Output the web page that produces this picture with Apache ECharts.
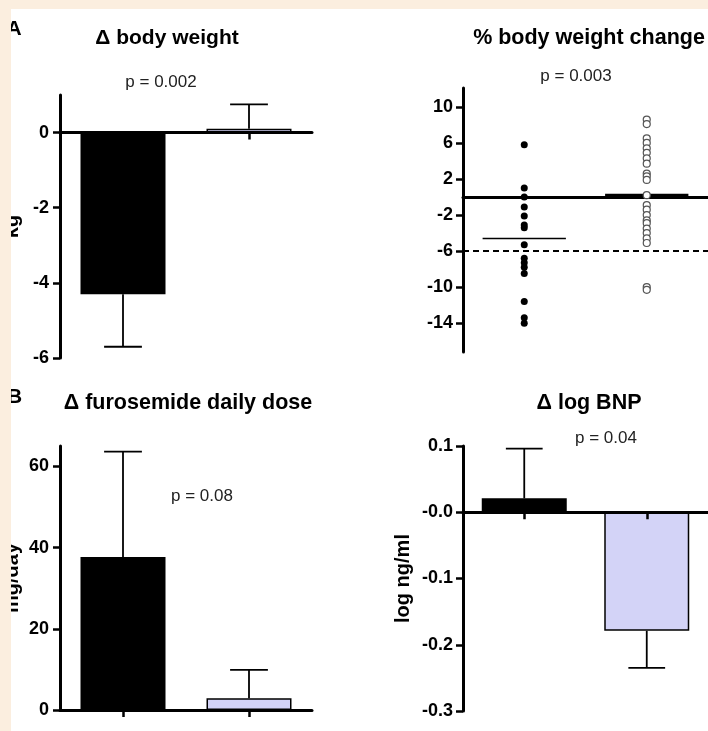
<!DOCTYPE html>
<html>
<head>
<meta charset="utf-8">
<script src="https://cdn.jsdelivr.net/npm/echarts@6/dist/echarts.min.js"></script>
<style>
html,body{margin:0;padding:0;background:#ffffff;}
#chart{width:708px;height:731px;}
</style>
</head>
<body>
<div id="chart"></div>
<script>
// ---------- data ----------
const categories = ['1', '2'];

// Panel A left: Δ body weight (kg)
const bwMean = [-4.3, 0.1];
const bwErrEnd = [-5.7, 0.75];
const bwTicks = [-6, -4, -2, 0];

// Panel A right: % body weight change
const pctGroup1 = [5.8, 1.0, 0, -1.1, -2.1, -3.1, -3.4, -5.3, -6.8, -7.3, -7.8, -8.5, -11.6, -13.4, -14.0];
const pctGroup2 = [8.6, 8.1, 6.5, 6.0, 5.4, 4.9, 4.3, 3.7, 2.6, 2.3, 1.9, 0.2, -0.9, -1.4, -2.0, -2.6, -2.9, -3.5, -4.0, -4.6, -5.1, -10.0, -10.3];
const pctMeans = [-4.6, 0.2];
const pctThreshold = -6;
const pctTicks = [-14, -10, -6, -2, 2, 6, 10];

// Panel B left: Δ furosemide daily dose (mg/day)
const furMean = [37.7, 2.9];
const furErrEnd = [63.6, 9.9];
const furTicks = [0, 20, 40, 60];

// Panel B right: Δ log BNP (log ng/ml)
const bnpMean = [0.021, -0.179];
const bnpErrEnd = [0.096, -0.235];
const bnpTicks = [-0.3, -0.2, -0.1, 0, 0.1];
const bnpTickLabels = ['-0.3', '-0.2', '-0.1', '-0.0', '0.1'];

// ---------- styling ----------
const FONT = '"Liberation Sans", Arial, Helvetica, sans-serif';
const BLACK = '#000000';
const LAVENDER = '#d3d3f7';
const CREAM = '#fbeedf';
const groupColors = [BLACK, LAVENDER];

function barData(values) {
  return values.map((v, i) => ({
    value: v,
    itemStyle: { color: groupColors[i], borderColor: BLACK, borderWidth: 1.5 }
  }));
}
function errData(means, ends) {
  return means.map((m, i) => [i, m, ends[i]]);
}
function errRender(params, api) {
  const x = api.value(0), m = api.value(1), e = api.value(2);
  const p0 = api.coord([x, m]);
  const p1 = api.coord([x, e]);
  const half = api.size([1, 0])[0] * 0.15;
  return {
    type: 'group',
    children: [
      { type: 'line', shape: { x1: p0[0], y1: p0[1], x2: p1[0], y2: p1[1] }, style: { stroke: BLACK, lineWidth: 1.8 } },
      { type: 'line', shape: { x1: p1[0] - half, y1: p1[1], x2: p1[0] + half, y2: p1[1] }, style: { stroke: BLACK, lineWidth: 1.8 } }
    ]
  };
}
function meanRender(params, api) {
  const x = api.value(0), m = api.value(1);
  const c = api.coord([x, m]);
  const half = api.size([1, 0])[0] * 0.34;
  return {
    type: 'line',
    shape: { x1: c[0] - half, y1: c[1], x2: c[0] + half, y2: c[1] },
    style: { stroke: BLACK, lineWidth: params.dataIndex === 0 ? 1.5 : 3 }
  };
}

function xAxisCfg(gridIndex, showTicks) {
  return {
    type: 'category', gridIndex: gridIndex, data: categories,
    z: 5,
    axisLine: { show: true, onZero: true, lineStyle: { color: BLACK, width: 3 } },
    axisTick: { show: showTicks, alignWithLabel: true, length: 7, lineStyle: { color: BLACK, width: 2.5 } },
    axisLabel: { show: false },
    splitLine: { show: false }
  };
}
function yAxisCfg(gridIndex, min, max, ticks, fmt, name, nameGap, margin) {
  return {
    type: 'value', gridIndex: gridIndex, min: min, max: max,
    name: name, nameLocation: 'middle', nameGap: nameGap, nameRotate: 90,
    nameTextStyle: { fontFamily: FONT, fontWeight: 'bold', fontSize: 20, color: BLACK },
    axisLine: { show: true, lineStyle: { color: BLACK, width: 3 } },
    axisTick: { show: true, length: 7, customValues: ticks, lineStyle: { color: BLACK, width: 2.5 } },
    axisLabel: {
      show: true, customValues: ticks, margin: margin, formatter: fmt,
      fontFamily: FONT, fontWeight: 'bold', fontSize: 18, color: BLACK
    },
    splitLine: { show: false }
  };
}

function txt(x, y, text, size, bold, color) {
  return {
    type: 'text', x: x, y: y, z: 50,
    style: {
      text: text, fontFamily: FONT, fontSize: size, fontWeight: bold ? 'bold' : 'normal',
      fill: color || BLACK, align: 'center', verticalAlign: 'middle'
    }
  };
}

const option = {
  backgroundColor: '#ffffff',
  animation: false,
  grid: [
    { left: 60, top: 95, width: 252, height: 263 },
    { left: 463, top: 88, width: 250, height: 264 },
    { left: 60, top: 446, width: 252, height: 264 },
    { left: 463, top: 446, width: 250, height: 265 }
  ],
  xAxis: [
    xAxisCfg(0, true),
    Object.assign(xAxisCfg(1, false), { z: 0 }),
    xAxisCfg(2, true),
    xAxisCfg(3, true)
  ],
  yAxis: [
    yAxisCfg(0, -6, 1, bwTicks, v => String(v), 'kg', 38, 11),
    yAxisCfg(1, -17.2, 12.1, pctTicks, v => String(v), '', 40, 10),
    yAxisCfg(2, 0, 65, furTicks, v => String(v), 'mg/day', 38, 11),
    yAxisCfg(3, -0.3, 0.1, bnpTicks, v => bnpTickLabels[bnpTicks.findIndex(t => Math.abs(t - v) < 1e-9)], 'log ng/ml', 50, 10)
  ],
  series: [
    { type: 'bar', xAxisIndex: 0, yAxisIndex: 0, barWidth: 85, data: barData(bwMean), z: 2 },
    { type: 'custom', xAxisIndex: 0, yAxisIndex: 0, renderItem: errRender, data: errData(bwMean, bwErrEnd), z: 3 },

    {
      type: 'scatter', xAxisIndex: 1, yAxisIndex: 1, symbol: 'circle', symbolSize: 7, z: 4,
      itemStyle: { color: BLACK, opacity: 1 },
      data: pctGroup1.map(v => [0, v]),
      markLine: {
        silent: true, symbol: ['none', 'none'], label: { show: false },
        lineStyle: { color: BLACK, width: 2, type: [6, 4] },
        data: [{ yAxis: pctThreshold }]
      }
    },
    {
      type: 'scatter', xAxisIndex: 1, yAxisIndex: 1, symbol: 'circle', symbolSize: 7, z: 4,
      itemStyle: { color: '#ffffff', borderColor: '#555555', borderWidth: 1.2, opacity: 1 },
      data: pctGroup2.map(v => [1, v])
    },
    { type: 'custom', xAxisIndex: 1, yAxisIndex: 1, renderItem: meanRender, data: pctMeans.map((m, i) => [i, m]), z: 3 },

    { type: 'bar', xAxisIndex: 2, yAxisIndex: 2, barWidth: 85, data: barData(furMean), z: 2 },
    { type: 'custom', xAxisIndex: 2, yAxisIndex: 2, renderItem: errRender, data: errData(furMean, furErrEnd), z: 3 },

    { type: 'bar', xAxisIndex: 3, yAxisIndex: 3, barWidth: 85, data: barData(bnpMean), z: 2 },
    { type: 'custom', xAxisIndex: 3, yAxisIndex: 3, renderItem: errRender, data: errData(bnpMean, bnpErrEnd), z: 3 }
  ],
  graphic: [
    txt(14, 29, 'A', 21, true),
    txt(14.5, 397, 'B', 21, true),
    txt(167, 38, 'Δ body weight', 21, true),
    txt(161, 82, 'p = 0.002', 17, false, '#222'),
    txt(589, 38, '% body weight change', 21.5, true),
    txt(576, 76, 'p = 0.003', 17, false, '#222'),
    txt(188, 403, 'Δ furosemide daily dose', 21.5, true),
    txt(202, 496, 'p = 0.08', 17, false, '#222'),
    txt(589, 403, 'Δ log BNP', 21.5, true),
    txt(606, 438, 'p = 0.04', 17, false, '#222'),
    { type: 'rect', z: 100, shape: { x: 0, y: 0, width: 708, height: 9 }, style: { fill: CREAM } },
    { type: 'rect', z: 100, shape: { x: 0, y: 0, width: 11, height: 731 }, style: { fill: CREAM } }
  ]
};

const chart = echarts.init(document.getElementById('chart'), null, { renderer: 'canvas' });
chart.setOption(option);
</script>
</body>
</html>
